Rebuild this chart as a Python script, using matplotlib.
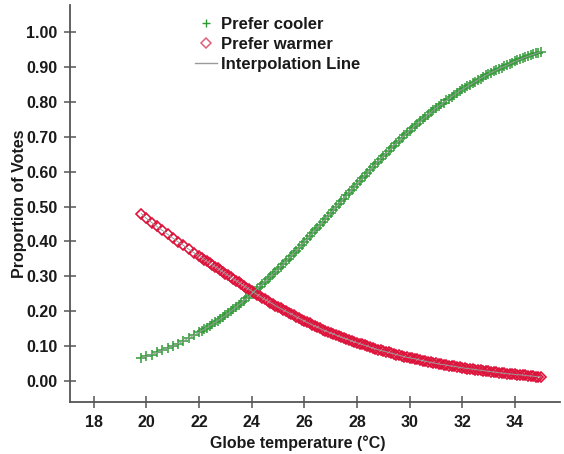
import matplotlib
matplotlib.use("Agg")
import matplotlib.pyplot as plt
from matplotlib.lines import Line2D

plt.rcParams['font.family'] = ['Liberation Sans', 'DejaVu Sans']
plt.rcParams['font.weight'] = 'bold'

# Globe temperature (°C) at which the fitted proportions are shown
temperature = [
    19.8, 20.0, 20.2, 20.4, 20.6, 20.8, 21.0, 21.2, 21.4, 21.6, 21.8,
    22.0, 22.1, 22.2, 22.3, 22.4, 22.5, 22.6, 22.7, 22.8, 22.9,
    23.0, 23.1, 23.2, 23.3, 23.4, 23.5, 23.6, 23.7, 23.8, 23.9,
    24.0, 24.1, 24.2, 24.3, 24.4, 24.5, 24.6, 24.7, 24.8, 24.9,
    25.0, 25.1, 25.2, 25.3, 25.4, 25.5, 25.6, 25.7, 25.8, 25.9,
    26.0, 26.1, 26.2, 26.3, 26.4, 26.5, 26.6, 26.7, 26.8, 26.9,
    27.0, 27.1, 27.2, 27.3, 27.4, 27.5, 27.6, 27.7, 27.8, 27.9,
    28.0, 28.1, 28.2, 28.3, 28.4, 28.5, 28.6, 28.7, 28.8, 28.9,
    29.0, 29.1, 29.2, 29.3, 29.4, 29.5, 29.6, 29.7, 29.8, 29.9,
    30.0, 30.1, 30.2, 30.3, 30.4, 30.5, 30.6, 30.7, 30.8, 30.9,
    31.0, 31.1, 31.2, 31.3, 31.4, 31.5, 31.6, 31.7, 31.8, 31.9,
    32.0, 32.1, 32.2, 32.3, 32.4, 32.5, 32.6, 32.7, 32.8, 32.9,
    33.0, 33.1, 33.2, 33.3, 33.4, 33.5, 33.6, 33.7, 33.8, 33.9,
    34.0, 34.1, 34.2, 34.3, 34.4, 34.5, 34.6, 34.7, 34.8, 34.9,
    35.0,
]

prefer_cooler = [
    0.066, 0.071, 0.076, 0.082, 0.088, 0.094, 0.100, 0.107, 0.115, 0.123, 0.131,
    0.140, 0.144, 0.149, 0.153, 0.158, 0.163, 0.168, 0.173, 0.178, 0.183,
    0.188, 0.194, 0.200, 0.206, 0.212, 0.218, 0.224, 0.230, 0.237, 0.243,
    0.250, 0.257, 0.264, 0.271, 0.278, 0.285, 0.292, 0.299, 0.306, 0.313,
    0.320, 0.327, 0.335, 0.343, 0.351, 0.359, 0.367, 0.374, 0.382, 0.390,
    0.398, 0.406, 0.415, 0.423, 0.432, 0.440, 0.448, 0.456, 0.465, 0.473,
    0.482, 0.490, 0.499, 0.507, 0.515, 0.523, 0.532, 0.540, 0.548, 0.556,
    0.565, 0.573, 0.581, 0.589, 0.597, 0.605, 0.613, 0.621, 0.629, 0.637,
    0.645, 0.652, 0.660, 0.667, 0.675, 0.682, 0.689, 0.696, 0.704, 0.711,
    0.718, 0.724, 0.731, 0.737, 0.744, 0.750, 0.757, 0.763, 0.770, 0.776,
    0.782, 0.787, 0.793, 0.798, 0.804, 0.809, 0.815, 0.820, 0.826, 0.831,
    0.836, 0.840, 0.845, 0.849, 0.854, 0.858, 0.863, 0.867, 0.872, 0.876,
    0.880, 0.884, 0.888, 0.891, 0.895, 0.898, 0.902, 0.905, 0.909, 0.912,
    0.916, 0.919, 0.922, 0.925, 0.928, 0.931, 0.934, 0.936, 0.939, 0.941,
    0.944,
]

prefer_warmer = [
    0.480, 0.466, 0.454, 0.443, 0.432, 0.421, 0.410, 0.399, 0.389, 0.378, 0.368,
    0.358, 0.353, 0.348, 0.343, 0.338, 0.333, 0.328, 0.323, 0.318, 0.313,
    0.308, 0.303, 0.298, 0.293, 0.288, 0.283, 0.278, 0.273, 0.268, 0.263,
    0.258, 0.253, 0.248, 0.243, 0.239, 0.234, 0.230, 0.225, 0.221, 0.216,
    0.212, 0.208, 0.204, 0.200, 0.196, 0.192, 0.188, 0.184, 0.180, 0.176,
    0.172, 0.168, 0.165, 0.161, 0.158, 0.154, 0.151, 0.147, 0.144, 0.141,
    0.138, 0.135, 0.132, 0.129, 0.126, 0.123, 0.121, 0.118, 0.115, 0.112,
    0.110, 0.107, 0.105, 0.102, 0.100, 0.097, 0.095, 0.092, 0.090, 0.088,
    0.086, 0.084, 0.082, 0.080, 0.078, 0.076, 0.074, 0.072, 0.070, 0.068,
    0.067, 0.065, 0.064, 0.062, 0.060, 0.058, 0.057, 0.055, 0.054, 0.052,
    0.051, 0.049, 0.048, 0.047, 0.046, 0.044, 0.043, 0.042, 0.041, 0.039,
    0.038, 0.037, 0.036, 0.035, 0.034, 0.033, 0.032, 0.031, 0.030, 0.029,
    0.028, 0.027, 0.026, 0.025, 0.024, 0.023, 0.022, 0.021, 0.021, 0.020,
    0.019, 0.018, 0.018, 0.017, 0.016, 0.015, 0.015, 0.014, 0.013, 0.012,
    0.012,
]

x_ticks = [18, 20, 22, 24, 26, 28, 30, 32, 34]
y_ticks = [0.0, 0.1, 0.2, 0.3, 0.4, 0.5, 0.6, 0.7, 0.8, 0.9, 1.0]

GREEN = '#2f9a35'
RED = '#dc143c'
LINE_GREY = '#9a9a9a'
AXIS = '#555555'
TEXT = '#1a1a1a'

fig = plt.figure(figsize=(5.64, 4.54), dpi=100)
ax = fig.add_axes([0.124, 0.1145, 0.869, 0.874])

ax.plot(temperature, prefer_cooler, linestyle='none', marker='+',
        color=GREEN, markersize=7.5, markeredgewidth=1.1, zorder=3)
ax.plot(temperature, prefer_warmer, linestyle='none', marker='D',
        markerfacecolor='none', markeredgecolor=RED, markersize=5.2,
        markeredgewidth=1.2, zorder=3)
ax.plot(temperature, prefer_cooler, color=LINE_GREY, linewidth=0.7, zorder=4)
ax.plot(temperature, prefer_warmer, color=LINE_GREY, linewidth=0.7, zorder=4)

ax.set_xlim(17.09, 35.72)
ax.set_ylim(-0.06, 1.077)
ax.set_xticks(x_ticks)
ax.set_yticks(y_ticks)
ax.set_yticklabels([f'{v:.2f}' for v in y_ticks])

for side in ('top', 'right'):
    ax.spines[side].set_visible(False)
for side in ('left', 'bottom'):
    ax.spines[side].set_color(AXIS)
    ax.spines[side].set_linewidth(1.3)

ax.tick_params(direction='inout', length=8, width=1.1, color=AXIS,
               labelsize=11.5, labelcolor=TEXT, pad=5)
for lab in ax.get_xticklabels() + ax.get_yticklabels():
    lab.set_fontweight('bold')

ax.set_xlabel('Globe temperature (°C)', fontsize=11.5, fontweight='bold',
              color=TEXT, labelpad=3)
ax.xaxis.set_label_coords(0.465, -0.085)
ax.set_ylabel('Proportion of Votes', fontsize=11.5, fontweight='bold',
              color=TEXT, labelpad=-0.5)

handles = [
    Line2D([], [], linestyle='none', marker='+', color=GREEN,
           markersize=6, markeredgewidth=1.0),
    Line2D([], [], linestyle='none', marker='D', markerfacecolor='none',
           markeredgecolor='#e0607a', markersize=5.5, markeredgewidth=1.1),
    Line2D([], [], color=LINE_GREY, linewidth=1.0),
]
labels = ['Prefer cooler', 'Prefer warmer', 'Interpolation Line']
leg = fig.legend(handles, labels, loc='upper left',
                 bbox_to_anchor=(0.32, 0.995), frameon=False,
                 handlelength=1.3, handletextpad=0.25, labelspacing=0.3,
                 prop={'weight': 'bold', 'size': 12})
for t in leg.get_texts():
    t.set_color(TEXT)

fig.savefig('out.png', dpi=100)
